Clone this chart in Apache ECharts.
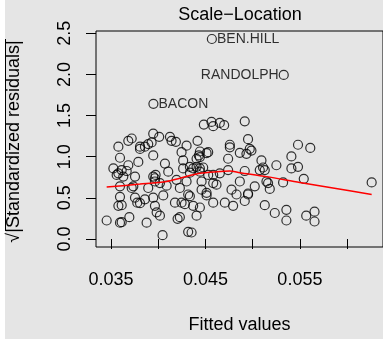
<!DOCTYPE html>
<html>
<head>
<meta charset="utf-8">
<script src="https://cdn.jsdelivr.net/npm/echarts@6/dist/echarts.min.js"></script>
<style>
html,body{margin:0;padding:0;background:#e5e5e5;}
#chart{width:383px;height:339px;}
</style>
</head>
<body>
<div id="chart"></div>
<script>
// fitted values / sqrt(|standardized residuals|)
var fittedVals = [
	0.04483,0.04564,0.04582,0.04652,0.04698,0.04916,
	0.03947,0.0401,0.04124,0.04141,0.03719,0.03683,0.04187,0.04416,0.04951,
	0.03578,0.03807,0.03859,0.03894,0.0393,0.03807,0.043,0.04758,0.04758,0.04969,0.04987,0.0548,0.0561,0.04247,
	0.03595,0.03947,0.04441,0.0443,0.04512,0.04529,0.04441,0.04406,0.04864,0.04934,0.0541,0.0474,0.04264,0.05093,0.04071,0.03789,
	0.03525,0.03613,0.03683,0.03666,0.03578,0.03754,0.03972,0.04106,0.04264,0.04335,0.0437,0.04406,0.04441,0.04476,0.04335,0.04441,0.04529,0.04582,0.04652,0.0474,0.04916,0.05075,0.0511,0.05128,0.05251,0.0541,0.0548,0.0363,0.03947,
	0.0356,0.03965,0.04018,0.04089,0.03965,0.04194,0.043,0.04459,0.04617,0.04582,0.04864,0.05022,0.05146,0.05163,0.05322,0.05541,0.0626,
	0.03595,0.03736,0.03719,0.03894,0.04229,0.04317,0.04335,0.04459,0.04512,0.04776,0.04829,0.04951,0.05181,0.04951,
	0.03595,0.03754,0.03859,0.03947,0.04053,0.04177,0.04282,0.04247,0.04512,0.04582,0.04705,0.04793,0.04916,0.05128,0.05234,
	0.03578,0.03613,0.03807,0.03778,0.03965,0.03983,0.04018,0.0437,0.04441,0.05357,0.05655,0.05567,
	0.03454,0.03613,0.03595,0.03694,0.03877,0.04205,0.04229,0.05357,0.05655,0.04406,
	0.04046,0.04317,0.04353
];
var sqrtResid = [
	1.39,1.422,1.371,1.41,1.383,1.43,
	1.28,1.241,1.241,1.193,1.221,1.193,1.181,1.193,1.213,
	1.122,1.122,1.122,1.153,1.173,1.094,1.134,1.145,1.114,1.094,1.074,1.145,1.106,1.055,
	0.987,1.015,1.063,1.015,1.043,1.055,0.995,0.975,1.047,1.035,1.003,0.975,0.955,0.955,0.916,0.936,
	0.857,0.837,0.896,0.826,0.798,0.758,0.778,0.818,0.857,0.877,0.857,0.877,0.857,0.869,0.806,0.818,0.778,0.778,0.798,0.837,0.826,0.837,0.869,0.837,0.896,0.857,0.877,0.758,0.758,
	0.778,0.699,0.679,0.648,0.738,0.719,0.699,0.699,0.66,0.679,0.699,0.64,0.699,0.679,0.687,0.731,0.687,
	0.64,0.64,0.62,0.62,0.62,0.541,0.521,0.6,0.561,0.6,0.541,0.541,0.608,0.553,
	0.513,0.502,0.482,0.502,0.529,0.442,0.423,0.442,0.529,0.442,0.442,0.403,0.462,0.411,0.316,
	0.403,0.411,0.435,0.442,0.403,0.324,0.284,0.403,0.383,0.355,0.332,0.284,
	0.225,0.205,0.198,0.265,0.198,0.245,0.265,0.225,0.213,0.284,
	0.047,0.087,0.079
];
// labelled observations
var idNames = ['BEN.HILL','RANDOLPH','BACON'];
var idFitted = [0.04568,0.05329,0.03949];
var idResid = [2.43,1.993,1.642];
var idSide = ['right','left','right'];
// smoother (red line)
var smoothX = [0.03454,0.03807,0.04089,0.04229,0.04441,0.04617,0.04758,0.04864,0.05146,0.05498,0.0585,0.0626];
var smoothY = [0.632,0.667,0.699,0.738,0.798,0.818,0.826,0.806,0.758,0.687,0.62,0.541];
// ticks
var xTicks = [0.035,0.04,0.045,0.05,0.055,0.06];
var xTickLabels = [0.035,0.045,0.055];
var yTicks = [0,0.5,1,1.5,2,2.5];

var FONT = '"Liberation Sans", Arial, Helvetica, sans-serif';

var pts = [];
for(var i=0;i<fittedVals.length;i++){
	pts.push([fittedVals[i],sqrtResid[i]]);
}
for(var j=0;j<idNames.length;j++){
	pts.push({
		value:[idFitted[j],idResid[j]],
		label:{
			show:true,
			formatter:idNames[j],
			position:idSide[j],
			distance:0,
			color:'#000',
			fontSize:14,
			fontFamily:FONT
		}
	});
}
var smooth = [];
for(var k=0;k<smoothX.length;k++){
	smooth.push([smoothX[k],smoothY[k]]);
}

var chart = echarts.init(document.getElementById('chart'),null,{renderer:'canvas'});
var option = {
	backgroundColor:'#e5e5e5',
	animation:false,
	grid:{
		left:96,
		top:31,
		width:288,
		height:221,
		show:true,
		borderColor:'#000',
		borderWidth:1,
		backgroundColor:'transparent'
	},
	xAxis:{
		type:'value',
		min:0.03341,
		max:0.0638,
		name:'Fitted values',
		nameLocation:'middle',
		nameGap:69,
		nameTextStyle:{color:'#000',fontSize:18,fontFamily:FONT},
		axisLine:{show:false},
		splitLine:{show:false},
		axisTick:{show:true,inside:false,length:10,customValues:xTicks,lineStyle:{color:'#000',width:1}},
		axisLabel:{
			customValues:xTickLabels,
			margin:24,
			color:'#000',
			fontSize:18,
			fontFamily:FONT,
			formatter:function(v){return v.toFixed(3);}
		}
	},
	yAxis:{
		type:'value',
		min:-0.097,
		max:2.527,
		axisLine:{show:false},
		splitLine:{show:false},
		axisTick:{show:true,inside:false,length:10,customValues:yTicks,lineStyle:{color:'#000',width:1}},
		axisLabel:{
			customValues:yTicks,
			rotate:90,
			margin:22,
			color:'#000',
			fontSize:18,
			fontFamily:FONT,
			formatter:function(v){return v.toFixed(1);}
		}
	},
	graphic:[
		{type:'rect',left:0,top:0,shape:{width:5,height:339},style:{fill:'#fff'},silent:true},
		{
			type:'text',
			x:240,y:15,
			style:{text:'Scale\u2212Location',fontSize:18,fontFamily:FONT,fill:'#000',align:'center',verticalAlign:'middle'}
		},
		{
			type:'text',
			x:14,y:141.5,
			rotation:Math.PI/2,
			style:{text:'\u221A|Standardized residuals|',fontSize:18,fontFamily:FONT,fill:'#000',align:'center',verticalAlign:'middle'}
		},
		{
			type:'line',
			shape:{x1:5.5,y1:39,x2:5.5,y2:231},
			style:{stroke:'#000',lineWidth:1}
		}
	],
	series:[
		{
			type:'scatter',
			data:pts,
			symbol:'circle',
			symbolSize:9,
			itemStyle:{color:'rgba(0,0,0,0)',borderColor:'#000',borderWidth:1.2},
			z:3
		},
		{
			type:'line',
			data:smooth,
			smooth:0.3,
			showSymbol:false,
			lineStyle:{color:'#ff0000',width:1.5},
			z:4
		}
	]
};
chart.setOption(option);
</script>
</body>
</html>
